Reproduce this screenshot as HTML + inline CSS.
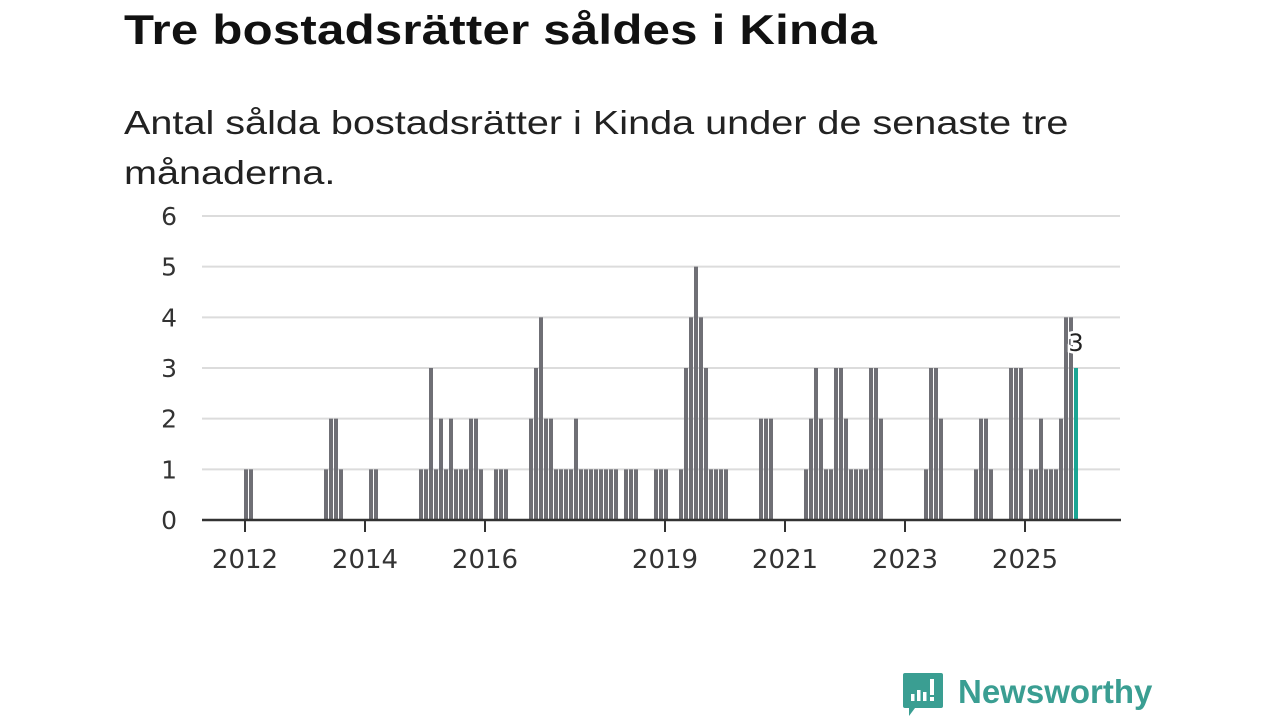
<!DOCTYPE html>
<html><head><meta charset="utf-8">
<style>
body{margin:0;background:#fff;width:1280px;height:720px;overflow:hidden;font-family:"Liberation Sans","DejaVu Sans",sans-serif;}
#title{position:absolute;left:124px;top:6px;font-size:42px;font-weight:bold;color:#111;margin:0;letter-spacing:0.2px;transform-origin:0 0;transform:scaleX(1.17);white-space:nowrap}
#sub{position:absolute;left:124px;top:98px;font-size:33px;line-height:50px;color:#222;width:1000px;transform-origin:0 0;transform:scaleX(1.2);white-space:nowrap}
svg{position:absolute;left:0;top:0}
</style></head><body>
<h1 id="title">Tre bostadsrätter såldes i Kinda</h1>
<div id="sub">Antal sålda bostadsrätter i Kinda under de senaste tre<br>månaderna.</div>
<svg id="chart" width="1280" height="720"></svg>
<script>
const months=[0,1,16,17,18,19,25,26,35,36,37,38,39,40,41,42,43,44,45,46,47,50,51,52,57,58,59,60,61,62,63,64,65,66,67,68,69,70,71,72,73,74,76,77,78,82,83,84,87,88,89,90,91,92,93,94,95,96,103,104,105,112,113,114,115,116,117,118,119,120,121,122,123,124,125,126,127,136,137,138,139,146,147,148,149,153,154,155,157,158,159,160,161,162,163,164,165,166];
const values=[1,1,1,2,2,1,1,1,1,1,3,1,2,1,2,1,1,1,2,2,1,1,1,1,2,3,4,2,2,1,1,1,1,2,1,1,1,1,1,1,1,1,1,1,1,1,1,1,1,3,4,5,4,3,1,1,1,1,2,2,2,1,2,3,2,1,1,3,3,2,1,1,1,1,3,3,2,1,3,3,2,1,2,2,1,3,3,3,1,1,2,1,1,1,2,4,4,3];
const yTicks=[0,1,2,3,4,5,6];
const xTickYears=[2012,2014,2016,2019,2021,2023,2025];
const NS="http://www.w3.org/2000/svg";
const svg=document.getElementById('chart');
const x=m=>245+5*m;
const y=v=>520-v*50.67;
const xYear=yr=>x((yr-2012)*12);
function el(t,a){const e=document.createElementNS(NS,t);for(const k in a)e.setAttribute(k,a[k]);svg.appendChild(e);return e;}
yTicks.forEach(v=>{
  if(v>0){const g=el('line',{x1:202,x2:1120,y1:y(v),y2:y(v),stroke:'#dcdcdc','stroke-width':2});
  
  }
  const t=el('text',{x:177,y:y(v)+9,'text-anchor':'end','font-size':25,fill:'#333','font-family':'DejaVu Sans, sans-serif'});
  t.textContent=v;
  
  
});
const last=months.length-1;
months.forEach((m,i)=>{
  const r=el('rect',{x:x(m)-1,y:y(values[i]),width:4,height:520-y(values[i]),fill:i===last?'#1aa594':'#6f6f75'});
  
  
});
const ax=el('line',{x1:202,x2:1121,y1:520,y2:520,stroke:'#333','stroke-width':2.5});


xTickYears.forEach(yr=>{
  const tk=el('line',{x1:xYear(yr),x2:xYear(yr),y1:520,y2:532,stroke:'#333','stroke-width':2});
  
  
  const t=el('text',{x:xYear(yr),y:568,'text-anchor':'middle','font-size':26,fill:'#333','font-family':'DejaVu Sans, sans-serif'});
  t.textContent=yr;
  
  
});
const lx=x(months[last])+1;
const lb=el('text',{x:lx,y:351,'text-anchor':'middle','font-size':24,fill:'#222',stroke:'#fff','stroke-width':5,'paint-order':'stroke','font-family':'DejaVu Sans, sans-serif'});
lb.textContent=values[last];


</script>
<svg width="280" height="60" style="left:900px;top:668px">
  <path d="M5 5 h36 a2 2 0 0 1 2 2 v31 a2 2 0 0 1 -2 2 h-26 l-6 8 v-8 h-4 a2 2 0 0 1 -2 -2 v-31 a2 2 0 0 1 2 -2z" fill="#3a9e92"/>
  <rect x="11" y="26" width="3.5" height="7" fill="#fff"/>
  <rect x="17" y="22" width="3.5" height="11" fill="#fff"/>
  <rect x="23" y="24" width="3.5" height="9" fill="#fff"/>
  <rect x="30" y="11" width="4" height="16" fill="#fff"/>
  <rect x="30" y="29" width="4" height="4" fill="#fff"/>
  <text x="58" y="35" font-size="33" font-weight="bold" fill="#3a9e92" font-family="Liberation Sans, sans-serif">Newsworthy</text>
</svg>
</body></html>
